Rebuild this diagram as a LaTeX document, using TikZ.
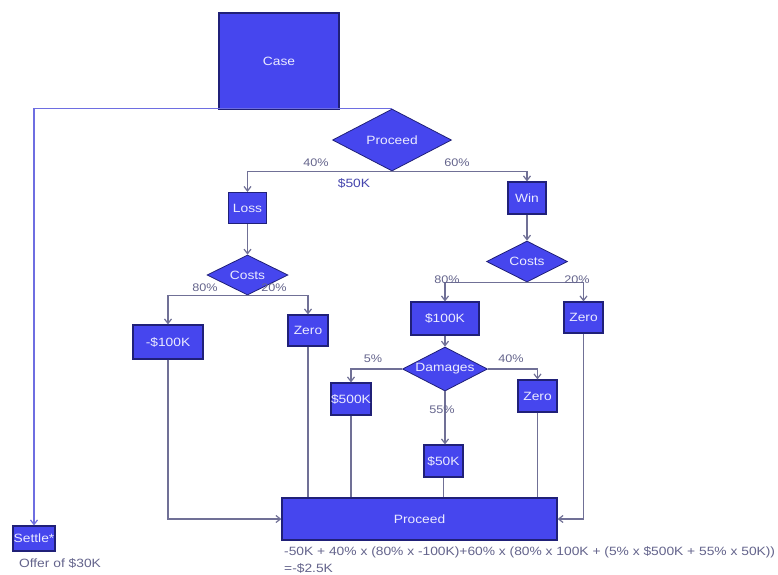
\documentclass[tikz,border=0pt]{standalone}
\usepackage{fontspec}
\setmainfont{Liberation Sans}[FakeStretch=1.15]
\usetikzlibrary{shapes.geometric,arrows.meta}
\definecolor{boxblue}{RGB}{70,70,238}
\definecolor{boxedge}{RGB}{32,32,120}
\definecolor{conncol}{RGB}{112,112,150}
\definecolor{settlecol}{RGB}{110,110,225}
\definecolor{labcol}{RGB}{100,100,140}
\definecolor{txtwhite}{RGB}{235,235,255}
\tikzset{
  nfont/.style={font=\fontsize{12}{14}\selectfont},
  box/.style={rectangle, fill=boxblue, draw=boxedge, line width=1.2pt, text=txtwhite, nfont, inner sep=0pt},
  dia/.style={diamond, aspect=2, fill=boxblue, draw=boxedge, line width=0.8pt, text=txtwhite, nfont, inner sep=0pt},
  conn/.style={draw=conncol, line width=1.2pt},
  arr/.style={conn, -{Straight Barb[length=4.5pt,width=7pt]}},
  lab/.style={text=labcol, font=\fontsize{11}{13}\selectfont, inner sep=0pt},
}
\begin{document}
\begin{tikzpicture}[x=1pt,y=-1pt]
\useasboundingbox (0,0) rectangle (778,574);
\fill[white] (0,0) rectangle (778,574);
% nodes
\node[box, minimum width=120pt, minimum height=96pt] (case) at (279,61) {Case};
\node[dia, minimum width=119pt, minimum height=62pt] (proc) at (392,140) {Proceed};
\node[box, minimum width=38pt, minimum height=31pt] (loss) at (247.5,208) {Loss};
\node[dia, minimum width=81pt, minimum height=40pt] (costsL) at (247.5,275) {Costs};
\node[box, minimum width=70pt, minimum height=34pt] (negk) at (168,342) {-\$100K};
\node[box, minimum width=40pt, minimum height=31pt] (zeroL) at (308,330.5) {Zero};
\node[box, minimum width=38pt, minimum height=32pt] (win) at (527,198) {Win};
\node[dia, minimum width=81pt, minimum height=41pt] (costsR) at (527,261.5) {Costs};
\node[box, minimum width=68pt, minimum height=33pt] (k100) at (445,318.5) {\$100K};
\node[box, minimum width=39pt, minimum height=31pt] (zeroR) at (583.5,317.5) {Zero};
\node[dia, minimum width=85pt, minimum height=44pt] (dmg) at (445,369) {Damages};
\node[box, minimum width=40pt, minimum height=32pt] (k500) at (351,399) {\$500K};
\node[box, minimum width=39pt, minimum height=32pt] (zeroD) at (537.5,396) {Zero};
\node[box, minimum width=39pt, minimum height=32pt] (k50) at (443.5,461) {\$50K};
\node[box, minimum width=275pt, minimum height=42pt] (pb) at (419.5,519) {Proceed};
\node[box, minimum width=42pt, minimum height=25pt] (settle) at (34,538.5) {Settle*};
% connectors
\draw[conn, draw=settlecol, -{Straight Barb[length=4.5pt,width=7pt]}] (proc.north) -| (settle.north);
\draw[arr] (proc.south) -| (loss.north);
\draw[arr] (proc.south) -| (win.north);
\draw[arr] (loss) -- (costsL);
\draw[arr] (costsL.south) -| (negk.north);
\draw[arr] (costsL.south) -| (zeroL.north);
\draw[arr] (win) -- (costsR);
\draw[arr] (costsR.south) -| (k100.north);
\draw[arr] (costsR.south) -| (zeroR.north);
\draw[arr] (k100) -- (dmg);
\draw[arr] (dmg.west) -| (k500.north);
\draw[arr] (dmg.east) -| (zeroD.north);
\draw[arr] (dmg.south) -- (dmg.south |- k50.north);
\draw[conn] (k500.south) -- (k500.south |- pb.north);
\draw[conn] (k50.south) -- (k50.south |- pb.north);
\draw[conn] (zeroD.south) -- (zeroD.south |- pb.north);
\draw[conn] (zeroL.south) -- (zeroL.south |- pb.north);
\draw[arr] (negk.south) |- (pb.west);
\draw[arr] (zeroR.south) |- (pb.east);
% labels
\node[lab] (l40) at (316,163) {40\%};
\node[lab, text=labcol!70!blue, font=\fontsize{12}{14}\selectfont] (l50k) at (354,183) {\$50K};
\node[lab] (l60) at (457,163) {60\%};
\node[lab] (l80a) at (205,288) {80\%};
\node[lab] (l20a) at (274,288) {20\%};
\node[lab] (l80b) at (447,280) {80\%};
\node[lab] (l20b) at (577,280) {20\%};
\node[lab] (l5) at (373,359) {5\%};
\node[lab] (l40b) at (511,359) {40\%};
\node[lab] (l55) at (442,410) {55\%};
\node[lab, font=\fontsize{12}{14}\selectfont] (offer) at (60,563) {Offer of \$30K};
\node[lab, font=\fontsize{12}{17}\selectfont, align=left, anchor=west] (formula) at (284,559.5) {-50K + 40\% x (80\% x -100K)+60\% x (80\% x 100K + (5\% x \$500K + 55\% x 50K))\\=-\$2.5K};
\end{tikzpicture}
\end{document}
